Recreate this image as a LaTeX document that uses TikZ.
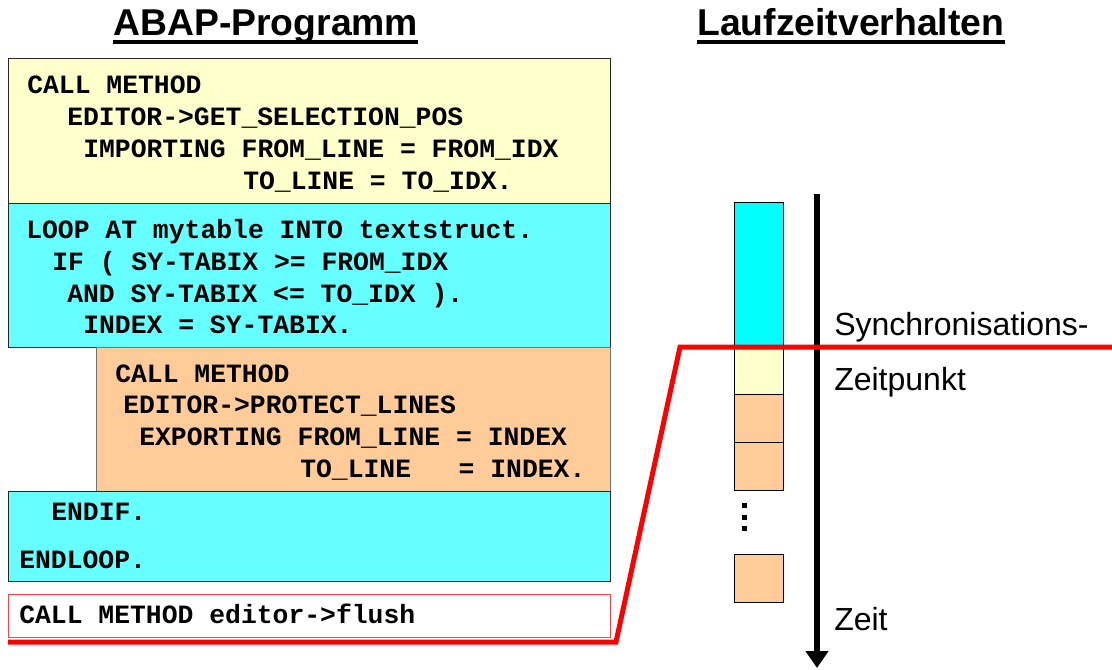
\documentclass[tikz,border=0pt]{standalone}
\usepackage{fontspec}
\setmainfont{Liberation Sans}
\newfontfamily\abapfont{Liberation Mono}
\usetikzlibrary{arrows.meta}
\definecolor{stmtyellow}{HTML}{FFFFCC}
\definecolor{loopcyan}{HTML}{66FFFF}
\definecolor{runcyan}{HTML}{00FFFF}
\definecolor{callorange}{HTML}{FFCC99}
\definecolor{flushred}{HTML}{FF4040}
\tikzset{
  abapline/.style={anchor=base west, inner sep=0pt,
    font=\abapfont\bfseries\fontsize{19.8}{22}\selectfont},
  heading/.style={anchor=base west, inner sep=0pt,
    font=\bfseries\fontsize{28}{32}\selectfont},
  timetext/.style={anchor=base west, inner sep=0pt,
    font=\fontsize{24}{28}\selectfont},
  codebox/.style={draw=black!85, line width=0.75pt},
  runbox/.style={draw=black, line width=0.75pt},
  underbar/.style={line width=2.4pt},
  syncline/.style={draw=red, line width=3.75pt, line join=miter},
  timearrow/.style={line width=4.5pt, -{Triangle[width=16.5pt,length=12.75pt]}}
}
\begin{document}
\begin{tikzpicture}[x=0.75pt,y=-0.75pt]
\useasboundingbox (0,0) rectangle (1112,669);
% headings
\node[heading] (prog) at (113,35) {ABAP-Programm};
\draw[underbar] ([yshift=-5.25pt]prog.base west) -- ([yshift=-5.25pt]prog.base east);
\node[heading] (lauf) at (697,35) {Laufzeitverhalten};
\draw[underbar] ([yshift=-5.25pt]lauf.base west) -- ([yshift=-5.25pt]lauf.base east);
% program blocks
\filldraw[codebox, fill=stmtyellow] (8,58) rectangle (610,203);
\filldraw[codebox, fill=loopcyan] (8,203) rectangle (610,347);
\filldraw[codebox, draw=black!55, fill=callorange] (96,347) rectangle (610,491);
\filldraw[codebox, fill=loopcyan] (8,491) rectangle (610,581);
\filldraw[codebox, draw=flushred, fill=white] (8,594) rectangle (610,637);
% get_selection_pos
\node[abapline] (g1) at (27,93) {CALL METHOD};
\node[abapline] (g2) at (67,125) {EDITOR->GET\_SELECTION\_POS};
\node[abapline] (g3) at (83,157) {IMPORTING FROM\_LINE = FROM\_IDX};
\node[abapline] (g4) at (243,189) {TO\_LINE = TO\_IDX.};
% loop head
\node[abapline] (l1) at (26,238) {LOOP AT mytable INTO textstruct.};
\node[abapline] (l2) at (52,270) {IF ( SY-TABIX >= FROM\_IDX};
\node[abapline] (l3) at (67,302) {AND SY-TABIX <= TO\_IDX ).};
\node[abapline] (l4) at (83,333) {INDEX = SY-TABIX.};
% protect_lines
\node[abapline] (p1) at (115,382) {CALL METHOD};
\node[abapline] (p2) at (123,413) {EDITOR->PROTECT\_LINES};
\node[abapline] (p3) at (139,445) {EXPORTING FROM\_LINE = INDEX};
\node[abapline] (p4) at (300,477) {TO\_LINE\ \ \ = INDEX.};
% loop tail, flush
\node[abapline] (e1) at (51,520) {ENDIF.};
\node[abapline] (e2) at (19,568) {ENDLOOP.};
\node[abapline] (fl) at (19,623) {CALL METHOD editor->flush};
% run time column
\filldraw[runbox, fill=runcyan] (734,202) rectangle (783,347);
\filldraw[runbox, fill=stmtyellow] (734,347) rectangle (783,394);
\filldraw[runbox, fill=callorange] (734,394) rectangle (783,442);
\filldraw[runbox, fill=callorange] (734,442) rectangle (783,490);
\foreach \y in {503,515,526}
  \fill (742,\y) rectangle +(4.5,4.5);
\filldraw[runbox, fill=callorange] (734,554) rectangle (783,602);
\coordinate (ttop) at (817,194);
\coordinate (tbot) at (817,668);
\draw[timearrow] (ttop) -- (tbot);
\node[timetext] (sync) at (834,335) {Synchronisations-};
\node[timetext] (zpkt) at (834,390) {Zeitpunkt};
\node[timetext] (zeit) at (834,630) {Zeit};
% synchronisation point
\coordinate (sstart) at (8,642);
\coordinate (flushend) at (616,642);
\coordinate (synctop) at (680,347);
\coordinate (send) at (1112,347);
\draw[syncline] (sstart) -- (flushend) -- (synctop) -- (send);
\end{tikzpicture}
\end{document}
